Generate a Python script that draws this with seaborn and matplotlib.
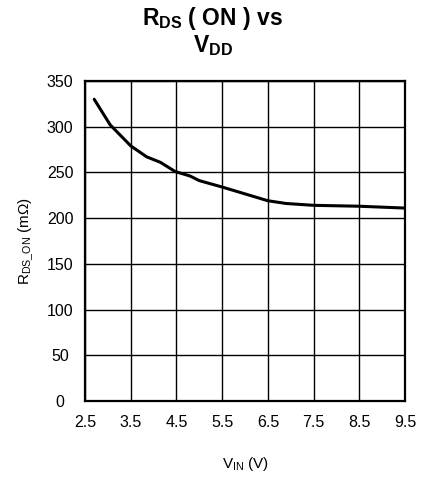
import matplotlib
matplotlib.use("Agg")
import matplotlib.pyplot as plt
import seaborn as sns
import pandas as pd

# valeurs
v_in = [2.7, 3.05, 3.5, 3.85, 4.15, 4.47, 4.8, 5.0, 5.5, 5.9, 6.3, 6.5, 6.9, 7.5, 8.5, 9.5]
r_ds_on = [330, 302, 279, 267, 261, 251, 246, 241, 234, 228, 222, 219, 216, 214, 213, 211]
x_ticks = [2.5, 3.5, 4.5, 5.5, 6.5, 7.5, 8.5, 9.5]
y_ticks = [0, 50, 100, 150, 200, 250, 300, 350]

df = pd.DataFrame({"vin": v_in, "rds": r_ds_on})

sns.set_style("white")
plt.rcParams["font.family"] = ["Liberation Sans", "DejaVu Sans"]
plt.rcParams["text.color"] = "black"
plt.rcParams["axes.labelcolor"] = "black"
plt.rcParams["xtick.color"] = "black"
plt.rcParams["ytick.color"] = "black"
plt.rcParams["mathtext.fontset"] = "custom"
plt.rcParams["mathtext.rm"] = "Liberation Sans"
plt.rcParams["mathtext.it"] = "Liberation Sans"
plt.rcParams["mathtext.bf"] = "Liberation Sans:bold"

fig = plt.figure(figsize=(4.21, 4.8), dpi=100)
ax = fig.add_axes([0.202, 0.1646, 0.760, 0.6667])

sns.lineplot(data=df, x="vin", y="rds", color="black", linewidth=2.2, ax=ax)

ax.set_xlim(2.5, 9.5)
ax.set_ylim(0, 350)
ax.set_xticks(x_ticks)
ax.set_yticks(y_ticks)
ax.set_xticklabels([str(t) for t in x_ticks], fontsize=11.5)
ax.set_yticklabels([str(t) for t in y_ticks], fontsize=11.5, ha="center")
ax.tick_params(axis="x", length=0, pad=10)
ax.tick_params(axis="y", length=0, pad=18)
ax.grid(True, color="black", linewidth=1)

for s in ax.spines.values():
    s.set_color("black")
    s.set_linewidth(1.6)

ax.set_xlabel(r"V$_{\mathrm{IN}}$ (V)", fontsize=11, labelpad=18)
ax.set_ylabel(r"R$_{\mathrm{DS\_ON}}$ (m$\Omega$)", fontsize=11, labelpad=8)

fig.text(0.505, 0.962, r"$\mathbf{R_{DS}}$ ( ON ) vs", ha="center", va="center",
         fontsize=16.5, fontweight="bold")
fig.text(0.505, 0.906, r"$\mathbf{V_{DD}}$", ha="center", va="center",
         fontsize=16.5, fontweight="bold")

fig.savefig("out.png", dpi=100)
